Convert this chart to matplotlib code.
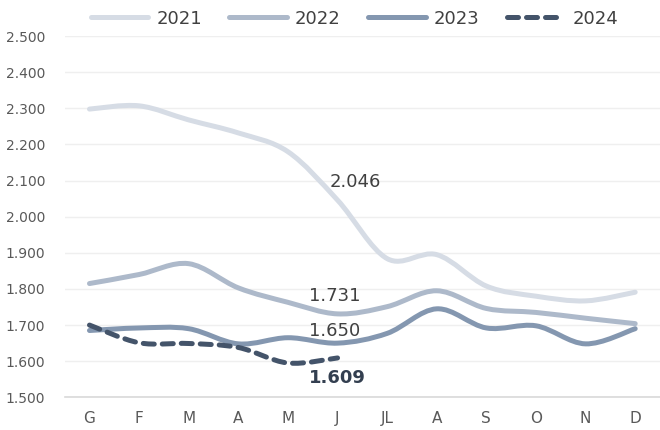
import numpy as np
import matplotlib
matplotlib.use("Agg")
import matplotlib.pyplot as plt
from matplotlib.path import Path
from matplotlib.patches import PathPatch
from matplotlib.lines import Line2D
from matplotlib.ticker import FuncFormatter

plt.rcParams['font.family'] = ['Liberation Sans Narrow', 'DejaVu Sans']

# Data
months = ["G", "F", "M", "A", "M", "J", "JL", "A", "S", "O", "N", "D"]
y2021 = [2298, 2307, 2268, 2232, 2180, 2046, 1884, 1895, 1808, 1780, 1767, 1791]
y2022 = [1815, 1840, 1870, 1803, 1763, 1731, 1751, 1795, 1746, 1735, 1719, 1704]
y2023 = [1685, 1692, 1690, 1648, 1665, 1650, 1677, 1745, 1692, 1698, 1648, 1690]
y2024 = [1700, 1651, 1649, 1638, 1595, 1609]
years = ["2021", "2022", "2023", "2024"]
colors = ["#d6dce5", "#adb9ca", "#8497b0", "#44546a"]
styles = ["-", "-", "-", "--"]
DASH = (0, (2.2, 1.6))


def smooth_path(xs, ys):
    # cubic bezier through points (Excel-like smoothed line)
    pts = np.column_stack([xs, ys]).astype(float)
    n = len(pts)
    verts = [pts[0]]
    codes = [Path.MOVETO]
    for i in range(n - 1):
        p0 = pts[i - 1] if i > 0 else pts[i]
        p1 = pts[i]
        p2 = pts[i + 1]
        p3 = pts[i + 2] if i + 2 < n else pts[i + 1]
        c1 = p1 + (p2 - p0) / 6.0
        c2 = p2 - (p3 - p1) / 6.0
        verts += [c1, c2, p2]
        codes += [Path.CURVE4] * 3
    return Path(verts, codes)


fig = plt.figure(figsize=(6.6, 4.3), dpi=100)
ax = fig.add_axes([0.098, 0.076, 0.902, 0.84])

series = [y2021, y2022, y2023, y2024]
for vals, col, ls in zip(series, colors, styles):
    x = np.arange(len(vals))
    patch = PathPatch(smooth_path(x, vals), facecolor="none", edgecolor=col,
                      lw=3.6, capstyle="round", joinstyle="round")
    if ls == "--":
        patch.set_linestyle(DASH)
    ax.add_patch(patch)

ax.set_xlim(-0.5, 11.5)
ax.set_ylim(1500, 2500)
ax.set_yticks(np.arange(1500, 2501, 100))
ax.yaxis.set_major_formatter(FuncFormatter(lambda v, p: f"{v/1000:.3f}"))
ax.set_xticks(range(12))
ax.set_xticklabels(months)
ax.grid(axis="y", color="#efefef", lw=1)
ax.set_axisbelow(True)
for s in ["top", "right", "left"]:
    ax.spines[s].set_visible(False)
ax.spines["bottom"].set_color("#d9d9d9")
ax.spines["bottom"].set_linewidth(1.2)
ax.tick_params(axis="both", length=0, labelsize=10, colors="#595959")
ax.tick_params(axis="x", pad=10, labelsize=11)
ax.tick_params(axis="y", pad=14)

# labels on June values
j = 5
ax.annotate(f"{y2021[j]/1000:.3f}", (j, y2021[j]), xytext=(18, 18),
            textcoords="offset pixels", ha="center", va="center", fontsize=13, color="#404040")
ax.annotate(f"{y2022[j]/1000:.3f}", (j, y2022[j]), xytext=(-3, 18),
            textcoords="offset pixels", ha="center", va="center", fontsize=13, color="#404040")
ax.annotate(f"{y2023[j]/1000:.3f}", (j, y2023[j]), xytext=(-3, 12),
            textcoords="offset pixels", ha="center", va="center", fontsize=13, color="#404040")
ax.annotate(f"{y2024[j]/1000:.3f}", (j, y2024[j]), xytext=(0, -20),
            textcoords="offset pixels", ha="center", va="center", fontsize=13,
            color="#333f50", fontweight="bold")

handles = [Line2D([], [], color=c, lw=3.6, linestyle=DASH if s == "--" else "-",
                  solid_capstyle="round", dash_capstyle="round")
           for c, s in zip(colors, styles)]
fig.legend(handles, years, loc="upper center", bbox_to_anchor=(0.537, 1.015), ncol=4,
           frameon=False, fontsize=13, handlelength=3.2, columnspacing=1.5,
           handletextpad=0.45, labelcolor="#404040")

fig.savefig("out.png", dpi=100)
